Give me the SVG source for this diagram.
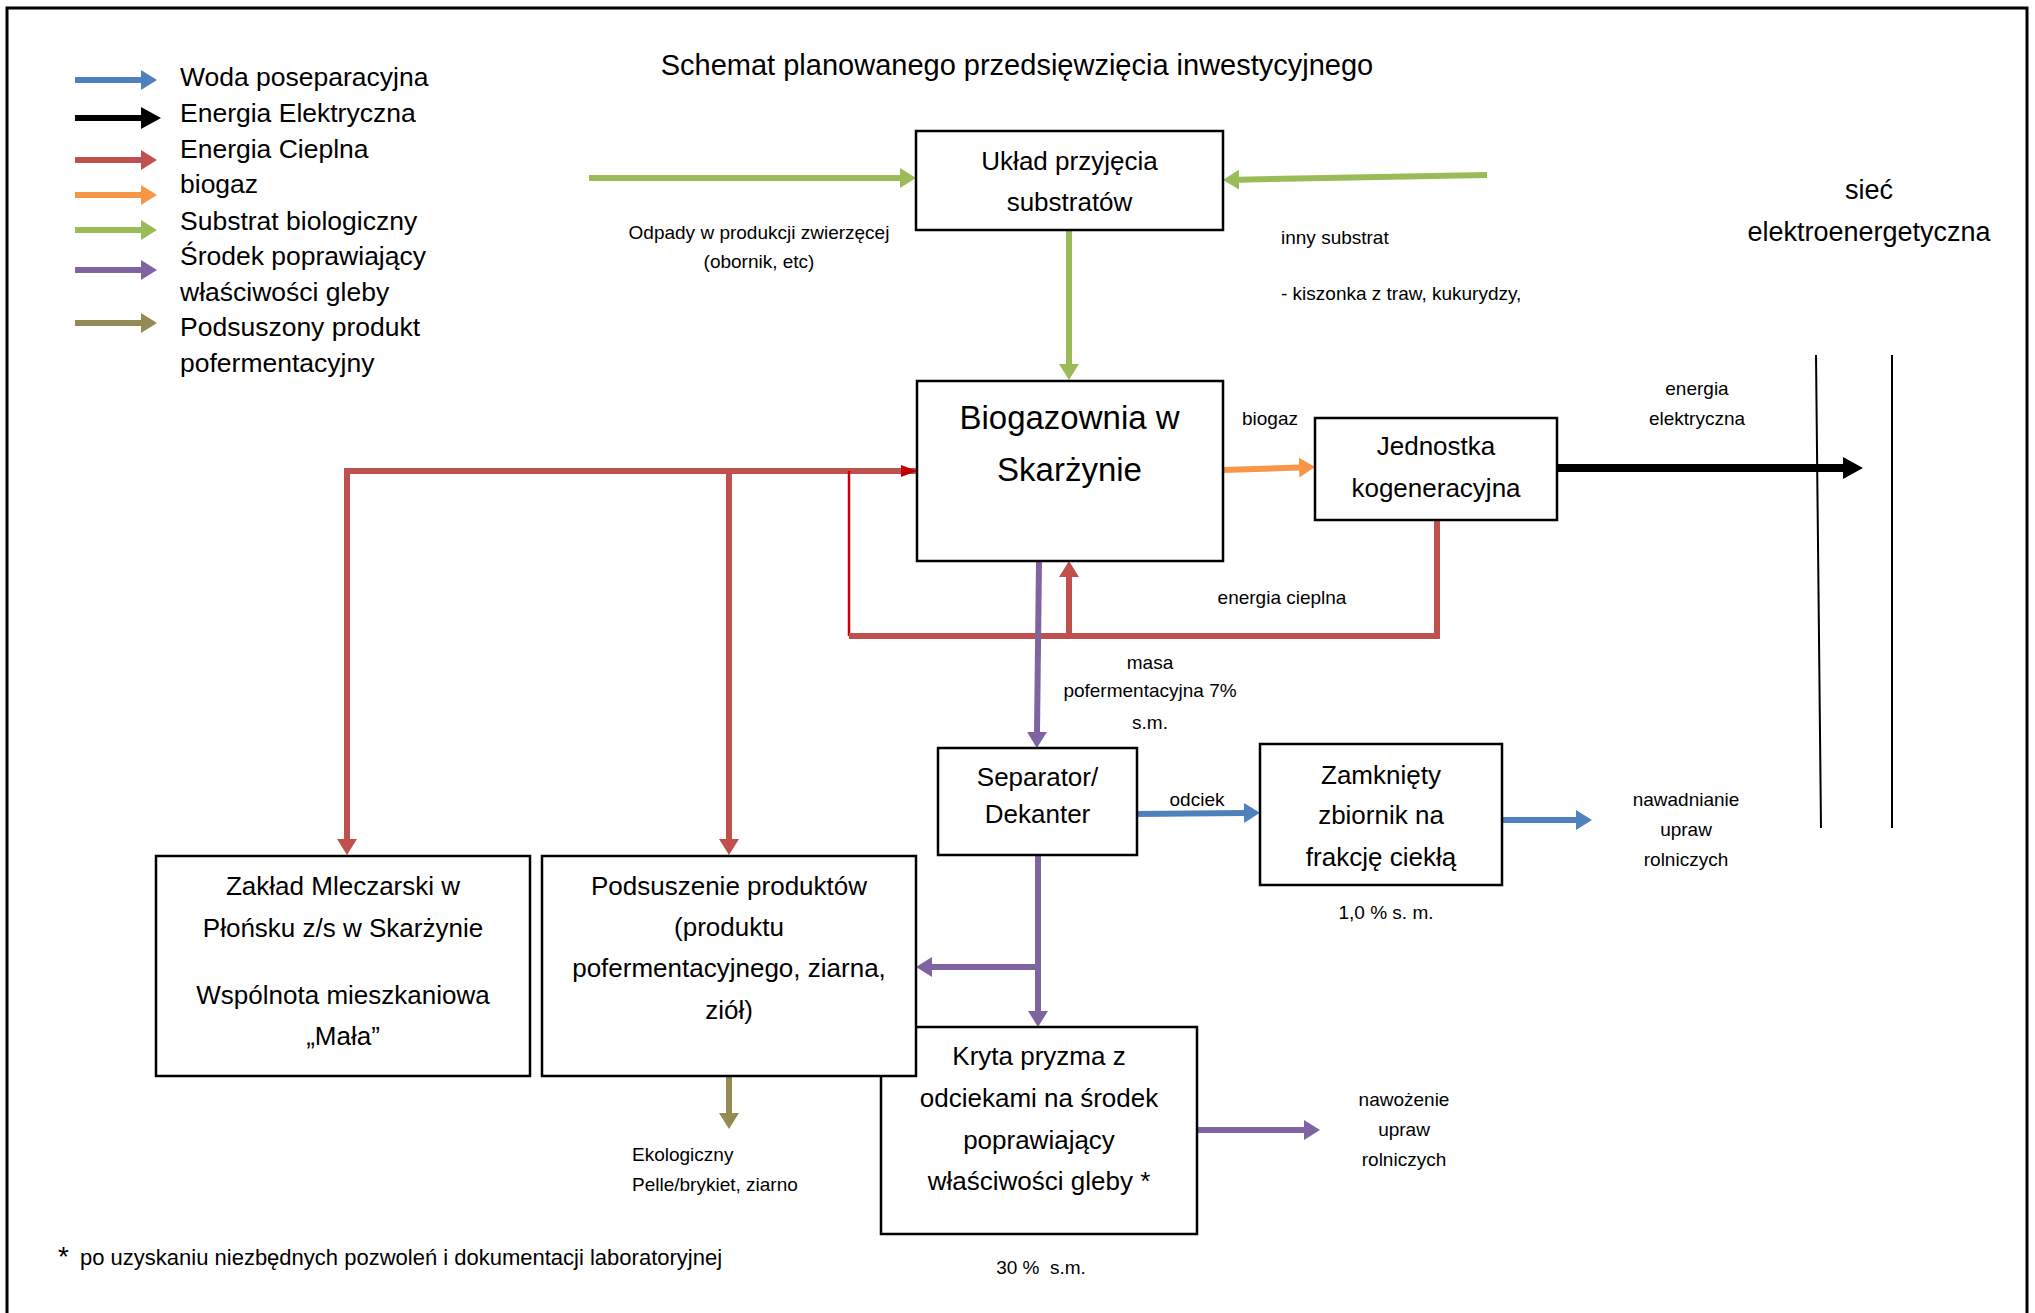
<svg xmlns="http://www.w3.org/2000/svg" width="2035" height="1313" viewBox="0 0 2035 1313">
<style>
text{font-family:"Liberation Sans",Arial,sans-serif;fill:#000}
.box{fill:#fff;stroke:#000;stroke-width:2.5}
.bt{font-size:26px;text-anchor:middle}
.big{font-size:33px;text-anchor:middle}
.lg{font-size:26.5px}
.sm{font-size:19px}
.c{text-anchor:middle}
.a{fill:none;stroke-width:6;stroke-linecap:butt}
.blue{stroke:#4F81BD}.red{stroke:#C0504D}.orange{stroke:#F79646}.green{stroke:#9BBB59}.purple{stroke:#8064A2}.olive{stroke:#948A54}.blk{stroke:#000}
</style>
<defs>
<marker id="hBlue" markerUnits="userSpaceOnUse" orient="auto" viewBox="0 -10 16 20" refX="0" refY="0" markerWidth="16" markerHeight="20"><path d="M0,-10 L16,0 L0,10 z" fill="#4F81BD"/></marker>
<marker id="hRed" markerUnits="userSpaceOnUse" orient="auto" viewBox="0 -10 16 20" refX="0" refY="0" markerWidth="16" markerHeight="20"><path d="M0,-10 L16,0 L0,10 z" fill="#C0504D"/></marker>
<marker id="hOrange" markerUnits="userSpaceOnUse" orient="auto" viewBox="0 -10 16 20" refX="0" refY="0" markerWidth="16" markerHeight="20"><path d="M0,-10 L16,0 L0,10 z" fill="#F79646"/></marker>
<marker id="hGreen" markerUnits="userSpaceOnUse" orient="auto" viewBox="0 -10 16 20" refX="0" refY="0" markerWidth="16" markerHeight="20"><path d="M0,-10 L16,0 L0,10 z" fill="#9BBB59"/></marker>
<marker id="hPurple" markerUnits="userSpaceOnUse" orient="auto" viewBox="0 -10 16 20" refX="0" refY="0" markerWidth="16" markerHeight="20"><path d="M0,-10 L16,0 L0,10 z" fill="#8064A2"/></marker>
<marker id="hOlive" markerUnits="userSpaceOnUse" orient="auto" viewBox="0 -10 16 20" refX="0" refY="0" markerWidth="16" markerHeight="20"><path d="M0,-10 L16,0 L0,10 z" fill="#948A54"/></marker>
<marker id="hBlack" markerUnits="userSpaceOnUse" orient="auto" viewBox="0 -11 20 22" refX="0" refY="0" markerWidth="20" markerHeight="22"><path d="M0,-11 L20,0 L0,11 z" fill="#000"/></marker>
</defs>
<rect width="2035" height="1313" fill="#fff"/>
<path d="M7,1313 V8 H2027 V1313" fill="none" stroke="#000" stroke-width="3"/>

<g id="legend">
<line class="a blue" x1="75" y1="80" x2="141" y2="80" marker-end="url(#hBlue)"/>
<line class="a blk" x1="75" y1="118" x2="141" y2="118" marker-end="url(#hBlack)"/>
<line class="a red" x1="75" y1="160" x2="141" y2="160" marker-end="url(#hRed)"/>
<line class="a orange" x1="75" y1="195" x2="141" y2="195" marker-end="url(#hOrange)"/>
<line class="a green" x1="75" y1="230" x2="141" y2="230" marker-end="url(#hGreen)"/>
<line class="a purple" x1="75" y1="270" x2="141" y2="270" marker-end="url(#hPurple)"/>
<line class="a olive" x1="75" y1="323" x2="141" y2="323" marker-end="url(#hOlive)"/>
<text class="lg" x="180" y="86">Woda poseparacyjna</text>
<text class="lg" x="180" y="122">Energia Elektryczna</text>
<text class="lg" x="180" y="158">Energia Cieplna</text>
<text class="lg" x="180" y="193">biogaz</text>
<text class="lg" x="180" y="230">Substrat biologiczny</text>
<text class="lg" x="180" y="265">Środek poprawiający</text>
<text class="lg" x="180" y="301">właściwości gleby</text>
<text class="lg" x="180" y="336">Podsuszony produkt</text>
<text class="lg" x="180" y="372">pofermentacyjny</text>
</g>

<text x="1017" y="75" style="font-size:29px" class="c">Schemat planowanego przedsięwzięcia inwestycyjnego</text>

<g id="connectors">
<line class="a green" x1="589" y1="178" x2="900" y2="178" marker-end="url(#hGreen)"/>
<line class="a green" x1="1487" y1="175" x2="1239" y2="179.7" marker-end="url(#hGreen)"/>
<line class="a green" x1="1069" y1="230" x2="1069" y2="364" marker-end="url(#hGreen)"/>
<line class="a orange" x1="1223" y1="470" x2="1299" y2="467.5" marker-end="url(#hOrange)"/>
<line class="a blk" style="stroke-width:8" x1="1557" y1="468" x2="1843" y2="468" marker-end="url(#hBlack)"/>
<line x1="1816" y1="355" x2="1821" y2="828" stroke="#000" stroke-width="2"/>
<line x1="1892" y1="355" x2="1892" y2="828" stroke="#000" stroke-width="2"/>
<path class="a red" d="M344,471 H917"/>
<polygon points="901,465 917,471 901,477" fill="#C00000"/>
<line class="a red" x1="347" y1="471" x2="347" y2="839" marker-end="url(#hRed)"/>
<line class="a red" x1="729" y1="471" x2="729" y2="839" marker-end="url(#hRed)"/>
<path d="M849,471 V636" fill="none" stroke="#CC0000" stroke-width="2.5"/>
<path class="a red" d="M849,636 H1437 V520"/>
<line class="a red" x1="1069" y1="636" x2="1069" y2="577" marker-end="url(#hRed)"/>
<line class="a purple" x1="1039" y1="561" x2="1037" y2="732" marker-end="url(#hPurple)"/>
<line class="a purple" x1="1038" y1="855" x2="1038" y2="1011" marker-end="url(#hPurple)"/>
<line class="a purple" x1="1038" y1="967" x2="932" y2="967" marker-end="url(#hPurple)"/>
<line class="a purple" x1="1197" y1="1130" x2="1304" y2="1130" marker-end="url(#hPurple)"/>
<line class="a blue" x1="1137" y1="814" x2="1244" y2="813" marker-end="url(#hBlue)"/>
<line class="a blue" x1="1502" y1="820" x2="1576" y2="820" marker-end="url(#hBlue)"/>
<line class="a olive" x1="729" y1="1076" x2="729" y2="1113" marker-end="url(#hOlive)"/>
</g>

<g id="n-uklad">
<rect class="box" x="916" y="131" width="307" height="99"/>
<text class="bt" x="1069.5" y="170">Układ przyjęcia</text>
<text class="bt" x="1069.5" y="211">substratów</text>
</g>
<g id="n-biogazownia">
<rect class="box" x="917" y="381" width="306" height="180"/>
<text class="big" x="1069.5" y="429">Biogazownia w</text>
<text class="big" x="1069.5" y="481">Skarżynie</text>
</g>
<g id="n-jednostka">
<rect class="box" x="1315" y="418" width="242" height="102"/>
<text class="bt" x="1436" y="455">Jednostka</text>
<text class="bt" x="1436" y="497">kogeneracyjna</text>
</g>
<g id="n-separator">
<rect class="box" x="938" y="748" width="199" height="107"/>
<text class="bt" x="1037.5" y="786">Separator/</text>
<text class="bt" x="1037.5" y="823">Dekanter</text>
</g>
<g id="n-zbiornik">
<rect class="box" x="1260" y="744" width="242" height="141"/>
<text class="bt" x="1381" y="784">Zamknięty</text>
<text class="bt" x="1381" y="824">zbiornik na</text>
<text class="bt" x="1381" y="866">frakcję ciekłą</text>
</g>
<g id="n-zaklad">
<rect class="box" x="156" y="856" width="374" height="220"/>
<text class="bt" x="343" y="895">Zakład Mleczarski w</text>
<text class="bt" x="343" y="937">Płońsku z/s w Skarżynie</text>
<text class="bt" x="343" y="1004">Wspólnota mieszkaniowa</text>
<text class="bt" x="343" y="1045">„Mała”</text>
</g>
<g id="n-kryta">
<rect class="box" x="881" y="1027" width="316" height="207"/>
<text class="bt" x="1039" y="1065">Kryta pryzma z</text>
<text class="bt" x="1039" y="1107">odciekami na środek</text>
<text class="bt" x="1039" y="1149">poprawiający</text>
<text class="bt" x="1039" y="1190">właściwości gleby *</text>
</g>
<g id="n-podsuszenie">
<rect class="box" x="542" y="856" width="374" height="220"/>
<text class="bt" x="729" y="895">Podsuszenie produktów</text>
<text class="bt" x="729" y="936">(produktu</text>
<text class="bt" x="729" y="977">pofermentacyjnego, ziarna,</text>
<text class="bt" x="729" y="1019">ziół)</text>
</g>

<g id="labels">
<text class="sm c" x="759" y="239">Odpady w produkcji zwierzęcej</text>
<text class="sm c" x="759" y="268">(obornik, etc)</text>
<text class="sm" x="1281" y="244">inny substrat</text>
<text class="sm" x="1281" y="300">- kiszonka z traw, kukurydzy,</text>
<text class="c" style="font-size:27px" x="1869" y="199">sieć</text>
<text class="c" style="font-size:27px" x="1869" y="241">elektroenergetyczna</text>
<text class="sm c" x="1270" y="425">biogaz</text>
<text class="sm c" x="1697" y="395">energia</text>
<text class="sm c" x="1697" y="425">elektryczna</text>
<text class="sm c" x="1282" y="604">energia cieplna</text>
<text class="sm c" x="1150" y="669">masa</text>
<text class="sm c" x="1150" y="697">pofermentacyjna 7%</text>
<text class="sm c" x="1150" y="729">s.m.</text>
<text class="sm c" x="1197" y="806">odciek</text>
<text class="sm c" x="1686" y="806">nawadnianie</text>
<text class="sm c" x="1686" y="836">upraw</text>
<text class="sm c" x="1686" y="866">rolniczych</text>
<text class="sm c" x="1386" y="919">1,0 % s. m.</text>
<text class="sm" x="632" y="1161">Ekologiczny</text>
<text class="sm" x="632" y="1191">Pelle/brykiet, ziarno</text>
<text class="sm c" x="1404" y="1106">nawożenie</text>
<text class="sm c" x="1404" y="1136">upraw</text>
<text class="sm c" x="1404" y="1166">rolniczych</text>
<text class="sm c" x="1041" y="1274" xml:space="preserve">30 %  s.m.</text>
<text x="58" y="1266" style="font-size:28px">*</text>
<text x="80" y="1265" style="font-size:22px">po uzyskaniu niezbędnych pozwoleń i dokumentacji laboratoryjnej</text>
</g>
</svg>
